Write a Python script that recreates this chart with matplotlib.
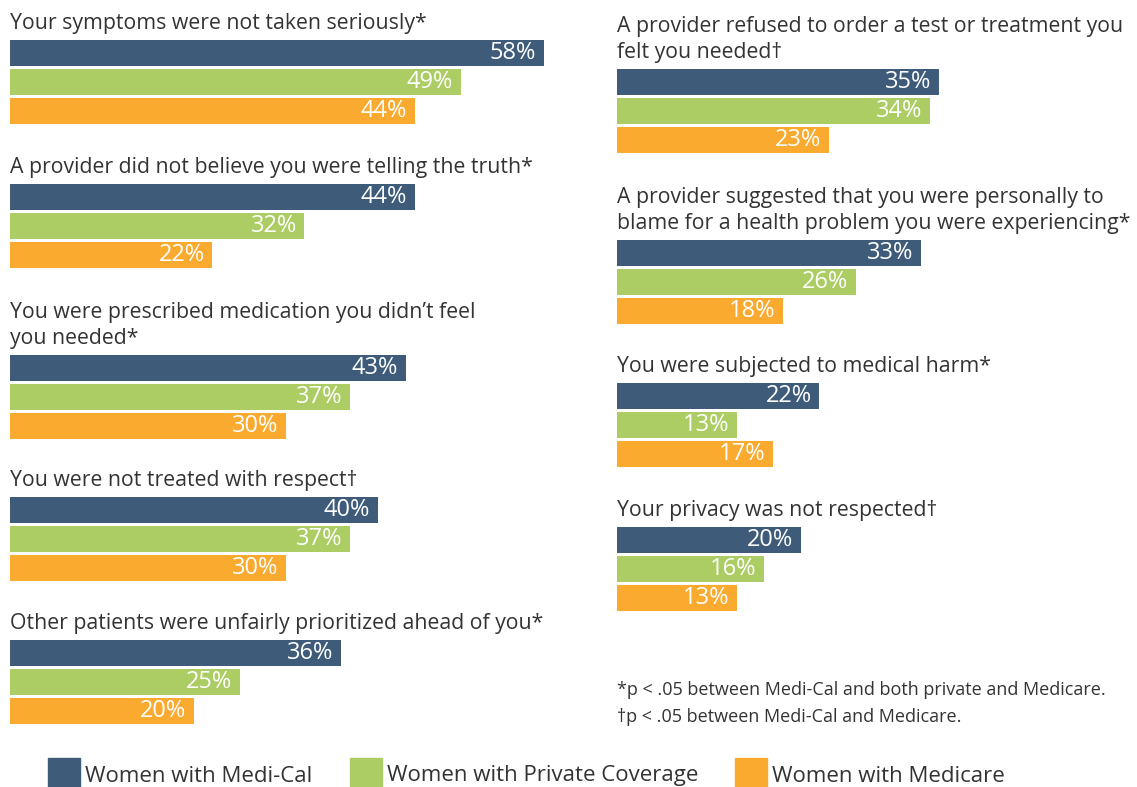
import matplotlib.pyplot as plt
from matplotlib.patches import Rectangle

# ---------------- data ----------------
series = ["Women with Medi-Cal", "Women with Private Coverage", "Women with Medicare"]
colors = ["#3E5C7A", "#ABCD63", "#FAAA2E"]

left_titles = [
    "Your symptoms were not taken seriously*",
    "A provider did not believe you were telling the truth*",
    "You were prescribed medication you didn\u2019t feel\nyou needed*",
    "You were not treated with respect\u2020",
    "Other patients were unfairly prioritized ahead of you*",
]
left_medical = [58, 44, 43, 40, 36]
left_private = [49, 32, 37, 37, 25]
left_medicare = [44, 22, 30, 30, 20]

right_titles = [
    "A provider refused to order a test or treatment you\nfelt you needed\u2020",
    "A provider suggested that you were personally to\nblame for a health problem you were experiencing*",
    "You were subjected to medical harm*",
    "Your privacy was not respected\u2020",
]
right_medical = [35, 33, 22, 20]
right_private = [34, 26, 13, 16]
right_medicare = [23, 18, 17, 13]

footnotes = [
    "*p < .05 between Medi-Cal and both private and Medicare.",
    "\u2020p < .05 between Medi-Cal and Medicare.",
]

# ---------------- layout (pixels) ----------------
W, H = 1137, 787
PX_PER_PCT = 9.2
left_tops = [40, 184, 355, 497, 640]
right_tops = [69, 240, 383, 527]
pitch = 29
bar_h = 26

plt.rcParams['font.family'] = ['Open Sans', 'DejaVu Sans']
text_col = "#333333"
fs = 15.3

fig = plt.figure(figsize=(W / 100, H / 100), dpi=100)


def column(x0, width, tops, titles, vals):
    ax = fig.add_axes([x0 / W, 0, width / W, 1])
    ax.set_xlim(0, width / PX_PER_PCT)
    ax.set_ylim(H, 0)
    ax.axis('off')
    for g, top in enumerate(tops):
        ax.text(0, top - 6, titles[g], ha='left', va='bottom', fontsize=fs,
                color=text_col, linespacing=1.33)
        for k in range(3):
            yc = top + k * pitch + bar_h / 2
            v = vals[k][g]
            ax.barh(yc, v, height=bar_h, left=0, color=colors[k])
            ax.annotate(f"{v}%", (v, yc), xytext=(-5.5, 0), textcoords='offset points',
                        ha='right', va='center', color='white', fontsize=17)
    return ax


column(10, 570, left_tops, left_titles, [left_medical, left_private, left_medicare])
column(617, 520, right_tops, right_titles, [right_medical, right_private, right_medicare])

# overlay for footnotes and legend
ov = fig.add_axes([0, 0, 1, 1])
ov.set_xlim(0, W)
ov.set_ylim(H, 0)
ov.axis('off')

ov.text(617, 690, footnotes[0], ha='left', va='center', fontsize=13, color=text_col)
ov.text(617, 717, footnotes[1], ha='left', va='center', fontsize=13, color=text_col)

leg_x = [48, 350, 735]
for k in range(3):
    ov.add_patch(Rectangle((leg_x[k], 758), 32, 30, color=colors[k], clip_on=False))
    ov.text(leg_x[k] + 37, 776, series[k], ha='left', va='center', fontsize=16,
            color=text_col)

fig.savefig("out.png", dpi=100)
